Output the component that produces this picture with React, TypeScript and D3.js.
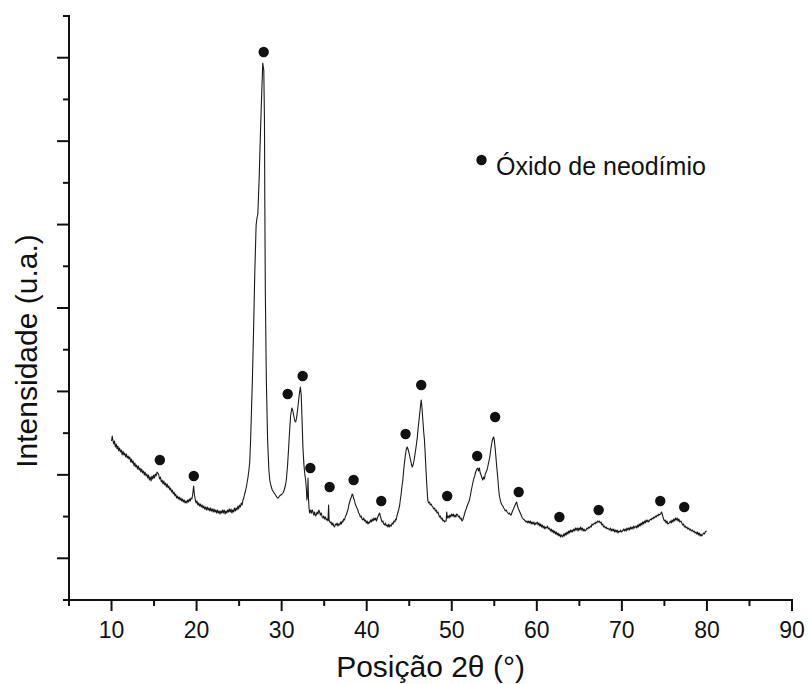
import React, { useEffect, useRef } from "react";
import * as d3 from "d3";

// XRD pattern: [2θ (°), intensity (a.u.)]
const xrdPattern: [number, number][] = [
  [10.00,159],[10.08,164],[10.16,160],[10.25,156],[10.35,159],[10.45,153],[10.55,156],[10.65,151],[10.75,154],[10.85,149],[10.95,152],
  [11.05,148],[11.15,150],[11.25,145],[11.35,149],[11.45,145],[11.55,147],[11.65,143],[11.75,146],[11.85,142],[11.95,144],
  [12.05,141],[12.15,143],[12.25,138],[12.35,141],[12.45,137],[12.55,139],[12.65,134],[12.75,137],[12.85,133],[12.95,135],
  [13.05,131],[13.15,134],[13.25,130],[13.35,132],[13.45,128],[13.55,131],[13.65,127],[13.75,129],[13.85,125],[13.95,128],
  [14.05,124],[14.15,126],[14.25,122],[14.35,125],[14.45,120],[14.55,123],[14.65,119],[14.75,124],[14.85,121],[14.95,125],
  [15.05,122],[15.15,126],[15.25,124],[15.35,128],[15.45,127],[15.55,125],[15.65,121],[15.75,123],[15.85,118],[15.95,120],
  [16.05,116],[16.15,119],[16.25,115],[16.35,117],[16.45,113],[16.55,116],[16.65,112],[16.75,114],[16.85,110],[16.95,112],
  [17.05,108],[17.15,110],[17.25,106],[17.35,108],[17.45,104],[17.55,106],[17.65,102],[17.75,104],[17.85,101],[17.95,103],
  [18.05,100],[18.15,102],[18.25,99],[18.35,101],[18.45,98],[18.55,100],[18.65,97],[18.75,99],[18.85,97],[18.95,100],
  [19.05,98],[19.15,101],[19.25,99],[19.35,102],[19.45,101],[19.55,106],[19.65,114],[19.75,105],[19.85,100],[19.95,97],
  [20.05,99],[20.15,95],[20.25,97],[20.35,94],[20.45,96],[20.55,93],[20.65,95],[20.75,92],[20.85,94],[20.95,91],
  [21.05,93],[21.15,90],[21.25,93],[21.35,90],[21.45,92],[21.55,89],[21.65,92],[21.75,89],[21.85,91],[21.95,88],
  [22.05,91],[22.15,88],[22.25,90],[22.35,87],[22.45,90],[22.55,87],[22.65,89],[22.75,86],[22.85,89],[22.95,87],
  [23.05,90],[23.15,87],[23.25,90],[23.35,86],[23.45,89],[23.55,87],[23.65,90],[23.75,88],[23.85,91],[23.95,88],
  [24.05,91],[24.15,87],[24.25,90],[24.35,88],[24.45,92],[24.55,89],[24.65,92],[24.75,90],[24.85,94],[24.95,91],
  [25.05,95],[25.15,93],[25.25,97],[25.35,95],[25.45,100],[25.55,102],[25.65,106],[25.75,109],[25.85,113],[25.95,118],
  [26.05,123],[26.15,130],[26.25,138],[26.35,160],[26.45,188],[26.56,220],[26.7,270],[26.85,330],[27.0,375],[27.1,382],
  [27.2,386],[27.35,420],[27.5,465],[27.65,505],[27.78,537],[27.9,530],[27.98,480],[28.02,400],[28.08,310],[28.2,220],
  [28.35,160],[28.5,130],[28.6,120],[28.75,114],[28.9,110],[29.05,108],[29.2,106],[29.35,104],[29.5,102],[29.6,102],
  [29.75,104],[29.9,105],[30.05,106],[30.15,107],[30.3,110],[30.45,115],[30.55,120],[30.7,135],[30.82,152],[30.94,170],
  [31.05,184],[31.2,192],[31.3,190],[31.45,183],[31.55,179],[31.65,178],[31.75,182],[31.9,192],[32.05,204],[32.2,213],
  [32.3,205],[32.4,180],[32.5,153],[32.62,135],[32.72,126],[32.82,120],[32.9,112],[32.97,100],[33.05,105],[33.1,122],
  [33.15,103],[33.22,92],[33.29,87],[33.4,90],[33.5,87],[33.6,90],[33.68,88],[33.78,85],[33.88,88],[33.98,84],
  [34.07,85],[34.17,88],[34.27,86],[34.37,90],[34.46,88],[34.56,85],[34.66,87],[34.76,83],[34.85,82],[34.95,84],
  [35.05,81],[35.15,83],[35.25,80],[35.35,81],[35.45,79],[35.52,95],[35.58,80],[35.72,77],[35.82,78],[35.92,75],
  [36.02,77],[36.12,74],[36.22,73],[36.32,76],[36.42,75],[36.52,77],[36.62,74],[36.72,76],[36.82,75],[36.92,78],
  [37.02,76],[37.12,79],[37.2,78],[37.3,81],[37.4,80],[37.5,84],[37.6,85],[37.7,88],[37.79,90],[37.9,95],
  [38.0,98],[38.1,101],[38.2,103],[38.3,106],[38.37,105],[38.45,102],[38.55,100],[38.65,96],[38.75,94],[38.85,92],
  [38.96,90],[39.05,87],[39.15,86],[39.25,83],[39.35,84],[39.45,81],[39.55,80],[39.65,82],[39.75,79],[39.85,80],
  [39.95,77],[40.05,79],[40.15,76],[40.25,78],[40.33,77],[40.45,80],[40.55,78],[40.65,81],[40.75,79],[40.85,82],
  [40.95,80],[41.05,82],[41.15,79],[41.25,82],[41.35,84],[41.45,86],[41.51,87],[41.6,84],[41.7,81],[41.8,78],
  [41.9,79],[42.0,76],[42.1,75],[42.2,77],[42.3,74],[42.4,75],[42.5,73],[42.6,76],[42.68,73],[42.8,75],
  [42.9,74],[43.0,77],[43.1,76],[43.2,79],[43.3,78],[43.4,81],[43.47,80],[43.55,84],[43.65,87],[43.75,90],
  [43.86,94],[43.95,100],[44.05,106],[44.15,114],[44.25,120],[44.35,130],[44.45,138],[44.55,145],[44.64,150],[44.7,152],
  [44.76,153],[44.85,151],[44.95,148],[45.05,144],[45.15,140],[45.25,136],[45.35,133],[45.45,135],[45.55,139],[45.65,144],
  [45.75,150],[45.85,156],[45.95,163],[46.05,172],[46.15,180],[46.25,188],[46.35,196],[46.41,200],[46.5,192],[46.6,180],
  [46.7,168],[46.79,160],[46.9,142],[47.0,125],[47.1,110],[47.18,100],[47.28,97],[47.38,98],[47.48,95],[47.58,96],
  [47.68,94],[47.77,93],[47.88,91],[47.98,92],[48.08,89],[48.18,90],[48.28,87],[48.38,88],[48.48,85],[48.56,83],
  [48.66,84],[48.76,81],[48.86,82],[48.96,79],[49.06,80],[49.16,78],[49.26,79],[49.34,79],[49.41,88],[49.48,82],
  [49.58,84],[49.68,82],[49.78,85],[49.88,83],[49.98,86],[50.08,84],[50.18,86],[50.28,83],[50.38,85],[50.48,83],
  [50.58,86],[50.7,85],[50.8,83],[50.9,84],[51.0,81],[51.1,82],[51.2,79],[51.29,80],[51.4,83],[51.5,86],
  [51.6,89],[51.7,91],[51.8,94],[51.9,96],[52.0,98],[52.08,100],[52.2,105],[52.3,110],[52.4,114],[52.5,118],
  [52.6,122],[52.67,123],[52.75,126],[52.85,129],[52.95,131],[53.05,132],[53.15,129],[53.25,132],[53.35,127],[53.45,125],
  [53.55,122],[53.64,120],[53.74,123],[53.84,121],[53.94,126],[54.04,128],[54.15,130],[54.25,134],[54.35,138],[54.45,142],
  [54.55,148],[54.65,154],[54.75,159],[54.85,162],[54.93,163],[55.0,160],[55.1,152],[55.2,142],[55.3,132],[55.4,123],
  [55.5,112],[55.6,104],[55.7,100],[55.8,97],[55.9,95],[56.0,94],[56.1,92],[56.2,91],[56.3,89],[56.4,90],
  [56.5,88],[56.6,87],[56.7,86],[56.78,87],[56.9,85],[56.98,85],[57.1,88],[57.2,90],[57.3,92],[57.4,94],
  [57.5,96],[57.56,97],[57.63,98],[57.7,95],[57.8,92],[57.9,90],[58.0,88],[58.1,86],[58.2,84],[58.3,82],
  [58.4,81],[58.54,80],[58.65,79],[58.74,78],[58.85,79],[58.95,77],[59.05,79],[59.15,77],[59.25,79],[59.35,76],
  [59.45,78],[59.55,76],[59.65,78],[59.75,75],[59.85,77],[59.91,76],[60.05,78],[60.15,75],[60.25,77],[60.35,74],
  [60.45,76],[60.55,73],[60.65,75],[60.75,72],[60.85,74],[60.95,71],[61.05,73],[61.15,72],[61.25,74],[61.35,71],
  [61.48,72],[61.6,69],[61.7,71],[61.8,68],[61.9,70],[62.0,67],[62.1,69],[62.2,66],[62.3,68],[62.4,65],
  [62.5,67],[62.6,64],[62.7,66],[62.8,63],[62.9,65],[63.04,63],[63.15,66],[63.25,64],[63.35,67],[63.45,65],
  [63.55,68],[63.65,66],[63.75,69],[63.85,67],[63.95,70],[64.05,68],[64.15,70],[64.21,68],[64.35,71],[64.45,69],
  [64.55,72],[64.65,70],[64.75,72],[64.85,69],[64.95,72],[65.05,70],[65.15,73],[65.25,70],[65.35,72],[65.45,69],
  [65.55,71],[65.65,69],[65.78,70],[65.9,72],[66.0,71],[66.1,73],[66.2,72],[66.3,74],[66.4,73],[66.5,76],
  [66.6,75],[66.76,77],[66.85,76],[66.95,78],[67.05,77],[67.15,79],[67.25,78],[67.35,79],[67.45,77],[67.55,78],
  [67.65,75],[67.75,76],[67.85,73],[67.95,74],[68.05,72],[68.15,73],[68.25,71],[68.35,72],[68.52,70],[68.65,72],
  [68.75,69],[68.85,71],[68.95,69],[69.05,71],[69.15,68],[69.25,70],[69.35,68],[69.45,70],[69.55,67],[69.65,69],
  [69.75,68],[69.85,70],[69.95,68],[70.08,69],[70.2,71],[70.3,69],[70.4,71],[70.5,69],[70.6,72],[70.7,70],
  [70.8,72],[70.9,70],[71.0,73],[71.1,71],[71.2,73],[71.3,71],[71.4,74],[71.5,72],[71.66,74],[71.75,72],
  [71.85,75],[71.95,73],[72.05,76],[72.15,74],[72.25,77],[72.35,75],[72.45,78],[72.55,76],[72.65,79],[72.75,77],
  [72.85,80],[72.95,78],[73.05,80],[73.15,78],[73.23,79],[73.35,81],[73.45,80],[73.55,82],[73.65,81],[73.75,83],
  [73.85,82],[73.95,84],[74.05,83],[74.15,85],[74.25,84],[74.35,86],[74.45,85],[74.55,86],[74.65,88],[74.71,87],
  [74.8,84],[74.9,81],[75.0,79],[75.1,80],[75.2,77],[75.3,79],[75.4,76],[75.57,77],[75.7,79],[75.8,77],
  [75.9,80],[76.0,78],[76.1,81],[76.2,79],[76.3,82],[76.4,80],[76.5,82],[76.6,79],[76.7,81],[76.8,78],
  [76.94,79],[77.05,77],[77.15,75],[77.25,76],[77.35,73],[77.45,74],[77.55,72],[77.65,73],[77.75,71],[77.85,72],
  [77.95,70],[78.05,71],[78.15,69],[78.3,70],[78.4,68],[78.5,69],[78.6,67],[78.7,68],[78.8,66],[78.9,68],
  [79.0,65],[79.1,67],[79.2,64],[79.3,66],[79.4,64],[79.48,65],[79.6,67],[79.7,66],[79.8,68],[79.95,69],
];

// Nd2O3 reflections marked with dots
const peakTheta = [15.68, 19.67, 27.89, 30.71, 32.47, 33.37, 35.64, 38.46, 41.71, 44.57, 46.41, 49.46, 52.99, 55.1, 57.87, 62.65, 67.27, 74.51, 77.33];
const peakMarkY = [140, 124, 548, 206, 224, 132, 113, 120, 99, 166, 215, 104, 144, 183, 108, 83, 90, 99, 93];

const xTickLabels = [10, 20, 30, 40, 50, 60, 70, 80, 90];
const xDomain: [number, number] = [5, 90];
const yDomain: [number, number] = [0, 584];
const legendLabel = "Óxido de neodímio";
const xTitle = "Posição 2θ (°)";
const yTitle = "Intensidade (u.a.)";

const W = 808;
const H = 684;
const FONT = "'Liberation Sans', Arial, sans-serif";

export default function App() {
  const ref = useRef<SVGSVGElement>(null);

  useEffect(() => {
    const svg = d3.select(ref.current);
    svg.selectAll("*").remove();

    const x = d3.scaleLinear().domain(xDomain).range([69, 792]);
    const y = d3.scaleLinear().domain(yDomain).range([600, 16]);

    const ink = "#111";

    // pattern line
    const line = d3
      .line<[number, number]>()
      .x((d) => x(d[0]))
      .y((d) => y(d[1]));
    svg
      .append("path")
      .datum(xrdPattern)
      .attr("d", line)
      .attr("fill", "none")
      .attr("stroke", "#1a1a1a")
      .attr("stroke-width", 1.1)
      .attr("stroke-linejoin", "round");

    // markers
    svg
      .append("g")
      .selectAll("circle")
      .data(peakTheta)
      .join("circle")
      .attr("cx", (d) => x(d))
      .attr("cy", (_d, i) => y(peakMarkY[i]))
      .attr("r", 5.2)
      .attr("fill", ink);

    // x axis
    const gx = svg.append("g").attr("transform", `translate(0,${y(yDomain[0])})`);
    const xMinor = d3.range(5, 91, 5);
    gx.append("line")
      .attr("x1", x(xDomain[0]) - 1)
      .attr("x2", x(xDomain[1]) + 1)
      .attr("stroke", ink)
      .attr("stroke-width", 2);
    gx.selectAll("line.t")
      .data(xMinor)
      .join("line")
      .attr("class", "t")
      .attr("x1", (d) => x(d))
      .attr("x2", (d) => x(d))
      .attr("y1", 0)
      .attr("y2", (d) => (d % 10 === 0 ? 11 : 6))
      .attr("stroke", ink)
      .attr("stroke-width", 2);
    gx.selectAll("text")
      .data(xTickLabels)
      .join("text")
      .attr("x", (d) => x(d))
      .attr("y", 38)
      .attr("text-anchor", "middle")
      .attr("font-family", FONT)
      .attr("font-size", 23)
      .attr("fill", ink)
      .text((d) => String(d));

    // y axis
    const gy = svg.append("g").attr("transform", `translate(${x(xDomain[0])},0)`);
    const step = (yDomain[1] - yDomain[0]) / 14;
    const yTicks = d3.range(0, 15).map((i) => yDomain[0] + i * step);
    gy.append("line")
      .attr("y1", y(yDomain[0]) + 1)
      .attr("y2", y(yDomain[1]) - 1)
      .attr("stroke", ink)
      .attr("stroke-width", 2);
    gy.selectAll("line.t")
      .data(yTicks)
      .join("line")
      .attr("class", "t")
      .attr("y1", (d) => y(d))
      .attr("y2", (d) => y(d))
      .attr("x1", 0)
      .attr("x2", (_d, i) => (i % 2 === 1 ? -12 : -6))
      .attr("stroke", ink)
      .attr("stroke-width", 2);

    // axis titles
    svg
      .append("text")
      .attr("x", (x(xDomain[0]) + x(xDomain[1])) / 2)
      .attr("y", 677)
      .attr("text-anchor", "middle")
      .attr("font-family", FONT)
      .attr("font-size", 30)
      .attr("fill", ink)
      .text(xTitle);
    svg
      .append("text")
      .attr("transform", `translate(37,351) rotate(-90)`)
      .attr("text-anchor", "middle")
      .attr("font-family", FONT)
      .attr("font-size", 30)
      .attr("fill", ink)
      .text(yTitle);

    // legend
    svg
      .append("circle")
      .attr("cx", 481.5)
      .attr("cy", 160)
      .attr("r", 5.2)
      .attr("fill", ink);
    svg
      .append("text")
      .attr("x", 496)
      .attr("y", 175)
      .attr("font-family", FONT)
      .attr("font-size", 25)
      .attr("fill", ink)
      .text(legendLabel);
  }, []);

  return (
    <svg
      ref={ref}
      width={W}
      height={H}
      style={{ position: "absolute", left: 0, top: 0, background: "#fff" }}
    />
  );
}
